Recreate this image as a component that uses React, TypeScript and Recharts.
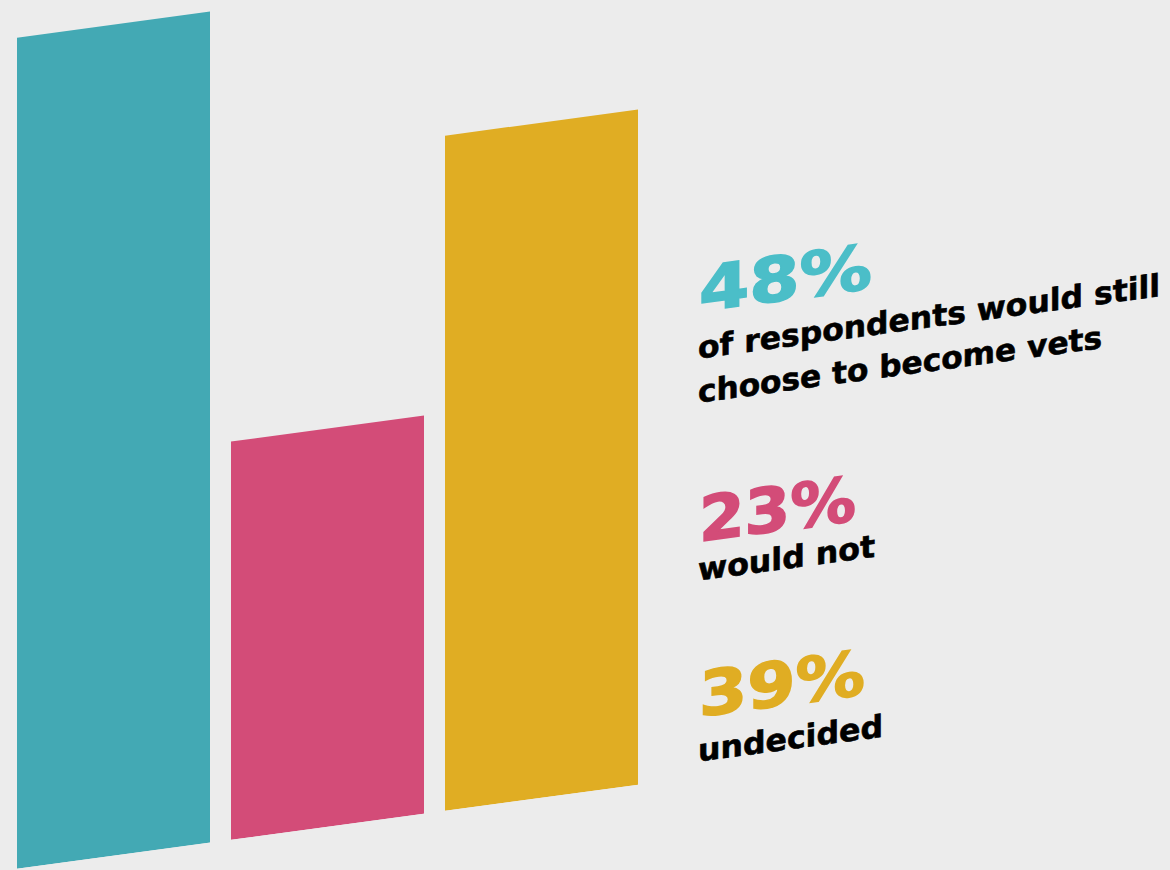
import { BarChart, Bar, Cell, XAxis, YAxis } from "recharts";

const categories = ["would still", "would not", "undecided"];
const shares = [48, 23, 39];
const barColors = ["#43a9b4", "#d34c78", "#e0ad23"];
const textColors = ["#4bbec8", "#d34c78", "#e0ad23"];
const captionLines = [
  ["of respondents would still", "choose to become vets"],
  ["would not"],
  ["undecided"],
];

const data = categories.map((name, i) => ({ name, value: shares[i] }));

// baselines are in un-skewed coordinates (the whole block gets skewY afterwards)
const blocks = [
  { y: 406, w: 173, lines: [{ y: 453, w: 462 }, { y: 497, w: 404 }] },
  { y: 636, w: 157, lines: [{ y: 675, w: 177 }] },
  { y: 811, w: 166, lines: [{ y: 856, w: 185 }] },
];

const font = "'DejaVu Sans', sans-serif";

export default function App() {
  return (
    <div
      style={{
        position: "fixed",
        left: 0,
        top: 0,
        width: 1170,
        height: 870,
        background: "#ececec",
        overflow: "hidden",
      }}
    >
      <div
        style={{
          position: "relative",
          width: 1170,
          height: 1000,
          transform: "skewY(-7.7deg)",
          transformOrigin: "0 0",
        }}
      >
        <BarChart
          width={648}
          height={871}
          data={data}
          margin={{ top: 40, right: 0, bottom: 0, left: 6 }}
        >
          <XAxis dataKey="name" hide />
          <YAxis domain={[0, 48]} hide />
          <Bar dataKey="value" barSize={193} isAnimationActive={false}>
            {data.map((d, i) => (
              <Cell key={d.name} fill={barColors[i]} />
            ))}
          </Bar>
        </BarChart>
        <svg
          width={1170}
          height={1000}
          style={{ position: "absolute", left: 0, top: 0 }}
        >
          {blocks.map((b, i) => (
            <g key={categories[i]}>
              <text
                x={699}
                y={b.y}
                fill={textColors[i]}
                stroke={textColors[i]}
                strokeWidth={1.6}
                fontFamily={font}
                fontWeight={700}
                fontSize={62}
                textLength={b.w}
                lengthAdjust="spacingAndGlyphs"
              >
                {shares[i]}%
              </text>
              {captionLines[i].map((line, j) => (
                <text
                  key={line}
                  x={698}
                  y={b.lines[j].y}
                  fill="#000"
                  stroke="#000"
                  strokeWidth={0.6}
                  fontFamily={font}
                  fontWeight={700}
                  fontSize={31}
                  textLength={b.lines[j].w}
                  lengthAdjust="spacingAndGlyphs"
                >
                  {line}
                </text>
              ))}
            </g>
          ))}
        </svg>
      </div>
    </div>
  );
}
